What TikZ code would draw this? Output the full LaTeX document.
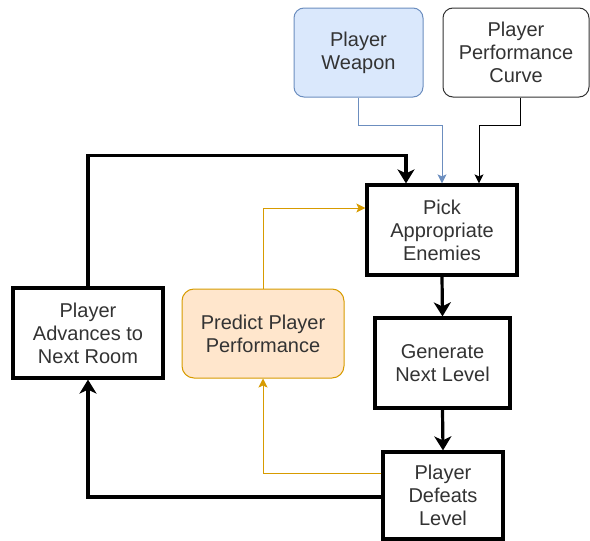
\documentclass[tikz,border=0pt]{standalone}
\usepackage{fontspec}
\setmainfont{Liberation Sans}
\usetikzlibrary{arrows.meta,calc}
\definecolor{txt}{HTML}{333333}
\definecolor{bluefill}{HTML}{DAE8FC}
\definecolor{bluedraw}{HTML}{6C8EBF}
\definecolor{orfill}{HTML}{FFE6CC}
\definecolor{ordraw}{HTML}{D79B00}
\tikzset{
  every node/.style={font=\fontsize{20}{23}\selectfont, text=txt, align=center, inner sep=0pt},
  thickbox/.style={draw=black, line width=3.2pt, fill=white},
  softbox/.style={draw, line width=1pt, rounded corners=10pt},
  thickarrow/.style={line width=3.2pt, -{Stealth[length=14pt,width=17pt,inset=4pt]}},
  thinarrow/.style={line width=1pt, -{Stealth[length=9pt,width=9pt,inset=2pt]}},
}
\begin{document}
\begin{tikzpicture}[x=1pt,y=-1pt]
\useasboundingbox (0,0) rectangle (590,541);
\node[softbox, draw=bluedraw, fill=bluefill, minimum width=129pt, minimum height=89pt] (weapon) at (358.5,52.5) {Player\\Weapon};
\node[softbox, draw=black!80, fill=white, minimum width=146pt, minimum height=89pt] (curve) at (516,52.5) {Player\\Performance\\Curve};
\node[thickbox, minimum width=150pt, minimum height=90pt] (pick) at (442,230) {Pick\\Appropriate\\Enemies};
\node[thickbox, minimum width=150pt, minimum height=90pt] (adv) at (88,333) {Player\\Advances to\\Next Room};
\node[softbox, draw=ordraw, fill=orfill, minimum width=162pt, minimum height=89pt, rounded corners=12pt] (predict) at (263,333.5) {Predict Player\\Performance};
\node[thickbox, minimum width=135pt, minimum height=90pt] (gen) at (442.5,363) {Generate\\Next Level};
\node[thickbox, minimum width=120pt, minimum height=87pt] (def) at (443,495.5) {Player\\Defeats\\Level};

\draw[thinarrow, draw=bluedraw] (weapon.south) -- ++(0,28) -| (pick.north);
\draw[thinarrow, draw=black] ([xshift=4pt]curve.south) -- ++(0,28) -| ([xshift=37pt]pick.north);
\draw[thickarrow] (adv.north) -- ++(0,-131) -| ([xshift=-36pt]pick.north);
\draw[thinarrow, draw=ordraw] (predict.north) |- ([yshift=22pt]pick.west);
\draw[thinarrow, draw=ordraw] ([yshift=22.5pt]def.west) -| (predict.south);
\draw[thickarrow] ([yshift=-1.5pt]def.west) -| (adv.south);
\draw[thickarrow] (pick.south) -- (gen.north);
\draw[thickarrow] (gen.south) -- (def.north);
\end{tikzpicture}
\end{document}
